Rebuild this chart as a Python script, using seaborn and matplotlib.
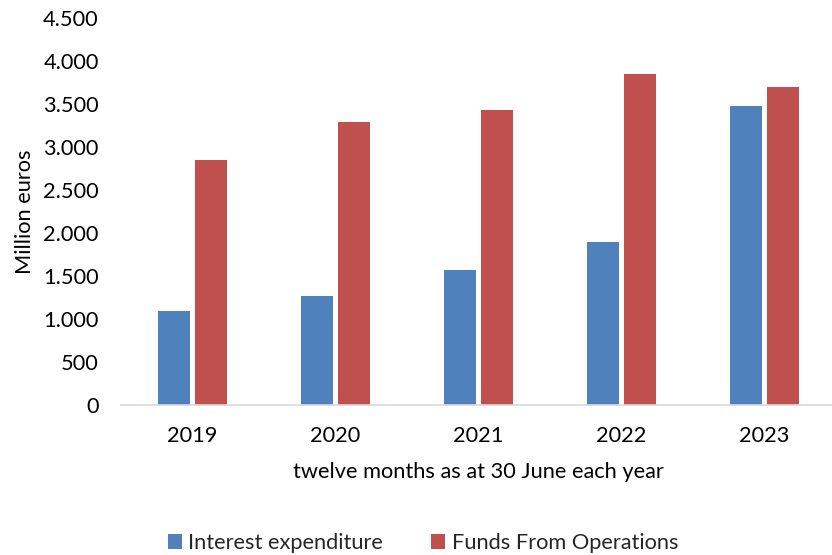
import matplotlib
matplotlib.use("Agg")
import matplotlib.pyplot as plt
import matplotlib.ticker as mticker
import seaborn as sns
import pandas as pd

years = ["2019", "2020", "2021", "2022", "2023"]
interest_expenditure = [1090, 1265, 1565, 1890, 3475]
funds_from_operations = [2845, 3290, 3425, 3845, 3695]
series_names = ["Interest expenditure", "Funds From Operations"]
series_colors = ["#4F81BD", "#C0504D"]

df = pd.DataFrame({
    "year": years * 2,
    "value": interest_expenditure + funds_from_operations,
    "series": [series_names[0]] * len(years) + [series_names[1]] * len(years),
})

sns.set_theme(style="white")
plt.rcParams["font.family"] = ["Lato", "DejaVu Sans"]
FS = 15.7

fig = plt.figure(figsize=(8.32, 5.55), dpi=100)
ax = fig.add_axes([121 / 832, 1 - 405 / 555, (836 - 121) / 832, (405 - 18) / 555])

sns.barplot(
    data=df, x="year", y="value", hue="series", order=years,
    hue_order=series_names, palette=series_colors,
    width=0.51, gap=0.12, linewidth=0, saturation=1, ax=ax, legend=True,
)

ax.set_xlim(-0.5, 4.5)
ax.set_ylim(0, 4500)
ax.yaxis.set_major_locator(mticker.MultipleLocator(500))
ax.yaxis.set_major_formatter(
    mticker.FuncFormatter(lambda v, _: f"{v:,.0f}".replace(",", "."))
)

for side in ["left", "top", "right"]:
    ax.spines[side].set_visible(False)
ax.spines["bottom"].set_color("#d9d9d9")
ax.spines["bottom"].set_linewidth(1.2)

ax.tick_params(axis="y", length=0, pad=16, labelsize=FS, labelcolor="black")
ax.tick_params(axis="x", which="major", length=0, pad=15, labelsize=FS, labelcolor="black")
ax.set_xticks([i - 0.5 for i in range(len(years) + 1)], minor=True)
ax.tick_params(axis="x", which="minor", length=6, width=1.2, color="#d9d9d9", direction="out")

ax.set_xlabel("twelve months as at 30 June each year", fontsize=FS, labelpad=12, color="black")
ax.set_ylabel("Million euros", fontsize=FS, labelpad=6, color="black")

handles, labels = ax.get_legend_handles_labels()
ax.get_legend().remove()
fig.legend(
    handles, labels, loc="center", bbox_to_anchor=(423 / 832, 1 - 543 / 555),
    ncol=2, frameon=False, fontsize=FS, handlelength=0.65, handleheight=0.65,
    handletextpad=0.3, columnspacing=2.2, borderpad=0,
)

fig.savefig("out.png", dpi=100)
